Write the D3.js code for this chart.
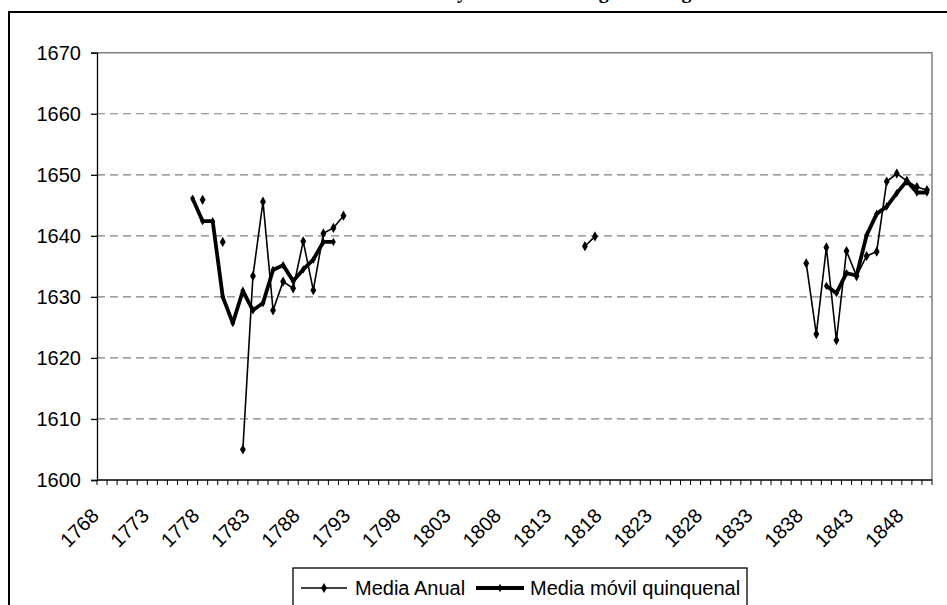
<!DOCTYPE html>
<html>
<head>
<meta charset="utf-8">
<script src="https://cdn.jsdelivr.net/npm/d3@7"></script>
<style>
  body { margin: 0; background: #fff; }
  text { font-family: "Liberation Sans", Arial, sans-serif; fill: #000; }
</style>
</head>
<body>
<div id="chart"></div>
<script>
// categories (one per year) and the labelled ones
var years = d3.range(1768, 1851);
var tickLabels = ["1768", "1773", "1778", "1783", "1788", "1793", "1798", "1803", "1808",
  "1813", "1818", "1823", "1828", "1833", "1838", "1843", "1848"];
var yTicks = [1600, 1610, 1620, 1630, 1640, 1650, 1660, 1670];

// Media Anual
var annualYears = [1778, 1780, 1782, 1783, 1784, 1785, 1786, 1787, 1788, 1789, 1790, 1791, 1792,
  1816, 1817,
  1838, 1839, 1840, 1841, 1842, 1843, 1844, 1845, 1846, 1847, 1848, 1849, 1850];
var annualValues = [1645.9, 1639.0, 1605.0, 1633.4, 1645.6, 1627.8, 1632.5, 1631.4, 1639.1, 1631.1, 1640.4, 1641.3, 1643.3,
  1638.3, 1639.9,
  1635.5, 1623.9, 1638.1, 1622.9, 1637.5, 1633.4, 1636.7, 1637.4, 1648.9, 1650.2, 1649.0, 1648.0, 1647.5];

// Media movil quinquenal
var mavgYears = [1777, 1778, 1779, 1780, 1781, 1782, 1783, 1784, 1785, 1786, 1787, 1788, 1789, 1790, 1791,
  1840, 1841, 1842, 1843, 1844, 1845, 1846, 1847, 1848, 1849, 1850];
var mavgValues = [1646.1, 1642.4, 1642.4, 1630.0, 1625.7, 1631.0, 1627.8, 1629.0, 1634.4, 1635.2, 1632.6, 1634.5, 1636.1, 1639.0, 1639.0,
  1631.8, 1630.6, 1633.9, 1633.5, 1640.1, 1643.6, 1644.8, 1647.0, 1649.0, 1647.1, 1647.1];

var width = 947, height = 605;
var plot = { left: 97, right: 932, top: 52.7, bottom: 480 };

var svg = d3.select("#chart").append("svg")
  .attr("width", width)
  .attr("height", height);

// outer frame of the chart object (runs past the window on right/bottom)
svg.append("rect")
  .attr("x", 9).attr("y", 12)
  .attr("width", 960).attr("height", 620)
  .attr("fill", "none").attr("stroke", "#000").attr("stroke-width", 2);

// title, only its tails are visible at the top
var title = svg.append("text")
  .attr("y", -2)
  .style("font-family", "'Liberation Serif', 'Times New Roman', serif")
  .style("font-weight", "bold")
  .style("font-size", "20px")
  .text("Estatura media y media móvil según los registros");
var tNode = title.node();
var yIdx = tNode.textContent.indexOf(" y ") + 1;
title.attr("x", 462 - tNode.getSubStringLength(0, yIdx) - 5);

var x = d3.scaleBand().domain(years).range([plot.left, plot.right]).padding(0);
var bw = x.bandwidth();
var y = d3.scaleLinear().domain([1600, 1670]).range([plot.bottom, plot.top]);

function cx(yr) { return x(yr) + bw / 2; }

// gridlines
svg.append("g")
  .selectAll("line")
  .data(yTicks.slice(1, -1))
  .enter().append("line")
  .attr("x1", plot.left).attr("x2", plot.right)
  .attr("y1", function(d) { return y(d); })
  .attr("y2", function(d) { return y(d); })
  .attr("stroke", "#808080")
  .attr("stroke-width", 1.2)
  .attr("stroke-dasharray", "8,5");

// plot area border (top and right in gray)
svg.append("path")
  .attr("d", "M" + plot.left + "," + y(1670) + "H" + plot.right + "V" + plot.bottom)
  .attr("fill", "none").attr("stroke", "#808080").attr("stroke-width", 1.5);

// y axis
var yAxis = svg.append("g")
  .attr("transform", "translate(" + plot.left + ",0)")
  .call(d3.axisLeft(y).tickValues(yTicks).tickSize(6).tickPadding(10).tickFormat(d3.format("d")));
yAxis.select(".domain").attr("stroke", "#000").attr("stroke-width", 1.3);
yAxis.selectAll(".tick line").attr("stroke", "#000").attr("stroke-width", 1.3);
yAxis.selectAll("text").style("font-size", "20px").style("font-family", "'Liberation Sans', Arial, sans-serif");

// x axis line and tick marks on the category boundaries
svg.append("line")
  .attr("x1", plot.left).attr("x2", plot.right)
  .attr("y1", plot.bottom).attr("y2", plot.bottom)
  .attr("stroke", "#000").attr("stroke-width", 1.3);

svg.append("g")
  .selectAll("line")
  .data(years.concat([1851]))
  .enter().append("line")
  .attr("x1", function(d, i) { return plot.left + i * bw; })
  .attr("x2", function(d, i) { return plot.left + i * bw; })
  .attr("y1", plot.bottom).attr("y2", plot.bottom + 5)
  .attr("stroke", "#000").attr("stroke-width", 1);

svg.append("g")
  .selectAll("text")
  .data(tickLabels)
  .enter().append("text")
  .attr("transform", function(d) {
    return "translate(" + (cx(+d) - 2) + "," + 517 + ") rotate(-45)";
  })
  .attr("text-anchor", "end")
  .style("font-size", "20px")
  .text(function(d) { return d; });

// series
function series(yrs, vals) {
  var lookup = new Map(yrs.map(function(d, i) { return [d, vals[i]]; }));
  return years.map(function(d) {
    return { year: d, value: lookup.has(d) ? lookup.get(d) : null };
  });
}
var annual = series(annualYears, annualValues);
var mavg = series(mavgYears, mavgValues);

var line = d3.line()
  .defined(function(d) { return d.value !== null; })
  .x(function(d) { return cx(d.year); })
  .y(function(d) { return y(d.value); });

var diamond = d3.symbol().type(d3.symbolDiamond);

svg.append("path")
  .datum(mavg)
  .attr("d", line)
  .attr("fill", "none")
  .attr("stroke", "#000")
  .attr("stroke-width", 3.8)
  .attr("stroke-linejoin", "round");

svg.append("path")
  .datum(annual)
  .attr("d", line)
  .attr("fill", "none")
  .attr("stroke", "#000")
  .attr("stroke-width", 1.6);

svg.append("g")
  .selectAll("path")
  .data(annual.filter(function(d) { return d.value !== null; }))
  .enter().append("path")
  .attr("transform", function(d) { return "translate(" + cx(d.year) + "," + y(d.value) + ")"; })
  .attr("d", diamond.size(30))
  .attr("fill", "#000");

svg.append("g")
  .selectAll("path")
  .data(mavg.filter(function(d) { return d.value !== null; }))
  .enter().append("path")
  .attr("transform", function(d) { return "translate(" + cx(d.year) + "," + y(d.value) + ")"; })
  .attr("d", diamond.size(20))
  .attr("fill", "#000");

// legend
var legend = svg.append("g");
legend.append("rect")
  .attr("x", 293).attr("y", 568)
  .attr("width", 454).attr("height", 60)
  .attr("fill", "#fff").attr("stroke", "#000").attr("stroke-width", 1.3);

var legendItems = [
  { name: "Media Anual", x1: 301, x2: 347, tx: 355, w: 1.6, m: 30 },
  { name: "Media móvil quinquenal", x1: 476, x2: 524, tx: 530, w: 3.8, m: 20 }
];
legendItems.forEach(function(d) {
  legend.append("line")
    .attr("x1", d.x1).attr("x2", d.x2)
    .attr("y1", 588).attr("y2", 588)
    .attr("stroke", "#000").attr("stroke-width", d.w);
  legend.append("path")
    .attr("transform", "translate(" + (d.x1 + d.x2) / 2 + ",588)")
    .attr("d", diamond.size(d.m))
    .attr("fill", "#000");
  legend.append("text")
    .attr("x", d.tx).attr("y", 595)
    .style("font-size", "20px")
    .text(d.name);
});
</script>
</body>
</html>
